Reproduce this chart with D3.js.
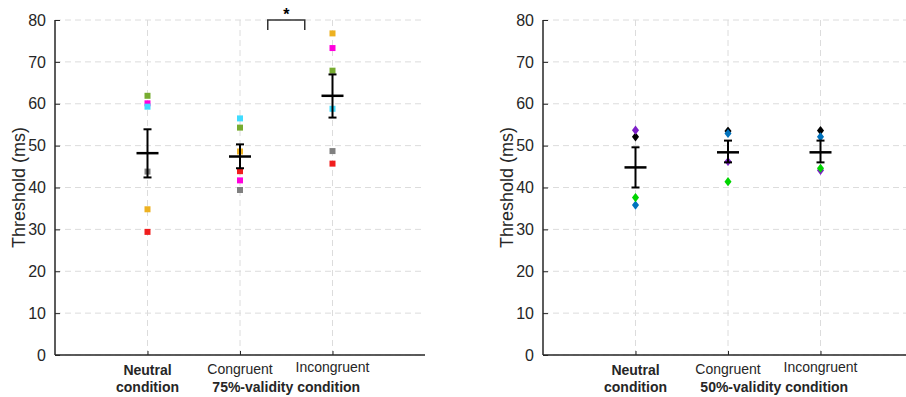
<!DOCTYPE html>
<html>
<head>
<meta charset="utf-8">
<script src="https://cdn.jsdelivr.net/npm/d3@7"></script>
<style>
  html, body { margin: 0; padding: 0; background: #fff; }
  svg { display: block; font-family: "Liberation Sans", Arial, Helvetica, sans-serif; }
</style>
</head>
<body>
<svg id="chart" width="906" height="397"></svg>
<script>
// tick labels / categories
const yTicks = [0, 10, 20, 30, 40, 50, 60, 70, 80];
const categories = ['Neutral', 'Congruent', 'Incongruent'];
const leftGroupLabel = '75%-validity condition';
const rightGroupLabel = '50%-validity condition';

// left panel: one value per participant colour, per condition
const leftColors = ['#f01d1d', '#edb120', '#77ac30', '#ff00dd', '#40dcff', '#808080'];
const leftNeutral = [29.4, 34.8, 61.9, 60.1, 59.3, 43.8];
const leftCongruent = [43.9, 48.6, 54.3, 41.7, 56.5, 39.4];
const leftIncongruent = [45.7, 76.8, 67.9, 73.3, 58.8, 48.7];
const leftMeans = [48.2, 47.4, 61.9];
const leftErrLow = [42.4, 44.6, 56.7];
const leftErrHigh = [53.9, 50.3, 67.0];

// right panel
const rightColors = ['#000000', '#7d1fc8', '#0072bd', '#00d400'];
const rightNeutral = [52.1, 53.7, 35.8, 37.6];
const rightCongruent = [53.5, 46.2, 52.9, 41.4];
const rightIncongruent = [53.6, 44.1, 52.1, 44.6];
const rightMeans = [44.8, 48.4, 48.4];
const rightErrLow = [40.0, 46.0, 46.0];
const rightErrHigh = [49.6, 51.2, 51.2];

const svg = d3.select('#chart');
const plotTop = 20, plotBottom = 355, panelW = 370;
const y = d3.scaleLinear().domain([0, 80]).range([plotBottom, plotTop]);
const textColor = '#262626';

function drawPanel(left, groups, colors, means, lo, hi, shape, groupLabel) {
  const x = d3.scaleLinear().domain([0, 4]).range([left, left + panelW]);
  const g = svg.append('g');

  // grid
  g.selectAll('line.hgrid').data(yTicks).join('line')
    .attr('x1', left).attr('x2', left + panelW)
    .attr('y1', d => y(d)).attr('y2', d => y(d))
    .attr('stroke', '#dcdcdc').attr('stroke-width', 1).attr('stroke-dasharray', '6,4');
  g.selectAll('line.vgrid').data([1, 2, 3]).join('line')
    .attr('x1', d => x(d)).attr('x2', d => x(d))
    .attr('y1', plotTop).attr('y2', plotBottom)
    .attr('stroke', '#dcdcdc').attr('stroke-width', 1).attr('stroke-dasharray', '6,4');

  // axes
  const yAxis = d3.axisLeft(y).tickValues(yTicks).tickSize(-5).tickPadding(9);
  const ya = g.append('g').attr('transform', `translate(${left},0)`).call(yAxis);
  ya.select('.domain').attr('d', `M0,${plotTop}V${plotBottom}`).attr('stroke', textColor).attr('stroke-width', 1.5);
  ya.selectAll('.tick line').attr('stroke', textColor);
  ya.selectAll('.tick text').attr('font-size', 16).attr('fill', textColor)
    .attr('font-family', '"Liberation Sans", Arial, sans-serif');

  const xAxis = d3.axisBottom(x).tickValues([1, 2, 3]).tickSize(-4).tickFormat('');
  const xa = g.append('g').attr('transform', `translate(0,${plotBottom})`).call(xAxis);
  xa.select('.domain').attr('d', `M${left},0H${left + panelW}`).attr('stroke', textColor).attr('stroke-width', 1.5);
  xa.selectAll('.tick line').attr('stroke', textColor);

  // y title
  g.append('text')
    .attr('transform', `translate(${left - 30},${(plotTop + plotBottom) / 2}) rotate(-90)`)
    .attr('text-anchor', 'middle').attr('font-size', 18).attr('fill', textColor)
    .text('Threshold (ms)');

  // category labels
  g.append('text').attr('x', x(1)).attr('y', 375).attr('text-anchor', 'middle')
    .attr('font-size', 14).attr('font-weight', 'bold').attr('fill', textColor).text(categories[0]);
  g.append('text').attr('x', x(1)).attr('y', 392).attr('text-anchor', 'middle')
    .attr('font-size', 14).attr('font-weight', 'bold').attr('fill', textColor).text('condition');
  g.append('text').attr('x', x(2)).attr('y', 374).attr('text-anchor', 'middle')
    .attr('font-size', 14).attr('fill', textColor).text(categories[1]);
  g.append('text').attr('x', x(3)).attr('y', 372).attr('text-anchor', 'middle')
    .attr('font-size', 14).attr('fill', textColor).text(categories[2]);
  g.append('text').attr('x', x(2.5)).attr('y', 392).attr('text-anchor', 'middle')
    .attr('font-size', 14).attr('font-weight', 'bold').attr('fill', textColor).text(groupLabel);

  // individual points
  groups.forEach((vals, gi) => {
    const pts = vals.map((v, i) => ({ v, c: colors[i] }));
    const sym = d3.symbol().type(shape === 'square' ? d3.symbolSquare : d3.symbolDiamond)
      .size(shape === 'square' ? 36 : 30);
    g.selectAll(null).data(pts).join('path')
      .attr('transform', d => `translate(${x(gi + 1)},${y(d.v)})` + (shape === 'diamond' ? ' scale(1.2,0.9)' : ''))
      .attr('d', sym)
      .attr('fill', d => d.c);
  });

  // mean + error bars
  const idx = [0, 1, 2];
  const eb = g.append('g').attr('stroke', '#000').attr('fill', 'none');
  eb.selectAll('line.v').data(idx).join('line')
    .attr('x1', i => x(i + 1)).attr('x2', i => x(i + 1))
    .attr('y1', i => y(lo[i])).attr('y2', i => y(hi[i])).attr('stroke-width', 2);
  eb.selectAll('line.capl').data(idx).join('line')
    .attr('x1', i => x(i + 1) - 4).attr('x2', i => x(i + 1) + 4)
    .attr('y1', i => y(lo[i])).attr('y2', i => y(lo[i])).attr('stroke-width', 2);
  eb.selectAll('line.caph').data(idx).join('line')
    .attr('x1', i => x(i + 1) - 4).attr('x2', i => x(i + 1) + 4)
    .attr('y1', i => y(hi[i])).attr('y2', i => y(hi[i])).attr('stroke-width', 2);
  eb.selectAll('line.mean').data(idx).join('line')
    .attr('x1', i => x(i + 1) - 11).attr('x2', i => x(i + 1) + 11)
    .attr('y1', i => y(means[i])).attr('y2', i => y(means[i])).attr('stroke-width', 2.5);

  return x;
}

const xl = drawPanel(55, [leftNeutral, leftCongruent, leftIncongruent], leftColors,
  leftMeans, leftErrLow, leftErrHigh, 'square', leftGroupLabel);
drawPanel(543, [rightNeutral, rightCongruent, rightIncongruent], rightColors,
  rightMeans, rightErrLow, rightErrHigh, 'diamond', rightGroupLabel);

// significance bracket between congruent and incongruent (left panel)
svg.append('path')
  .attr('d', `M${xl(2.3)},${y(77.6)}V${y(80)}H${xl(2.7)}V${y(77.6)}`)
  .attr('fill', 'none').attr('stroke', '#333').attr('stroke-width', 1.5);
svg.append('text').attr('x', xl(2.5)).attr('y', y(80) - 0.5).attr('text-anchor', 'middle')
  .attr('font-size', 16).attr('font-weight', 'bold').attr('fill', '#000').text('*');
</script>
</body>
</html>
